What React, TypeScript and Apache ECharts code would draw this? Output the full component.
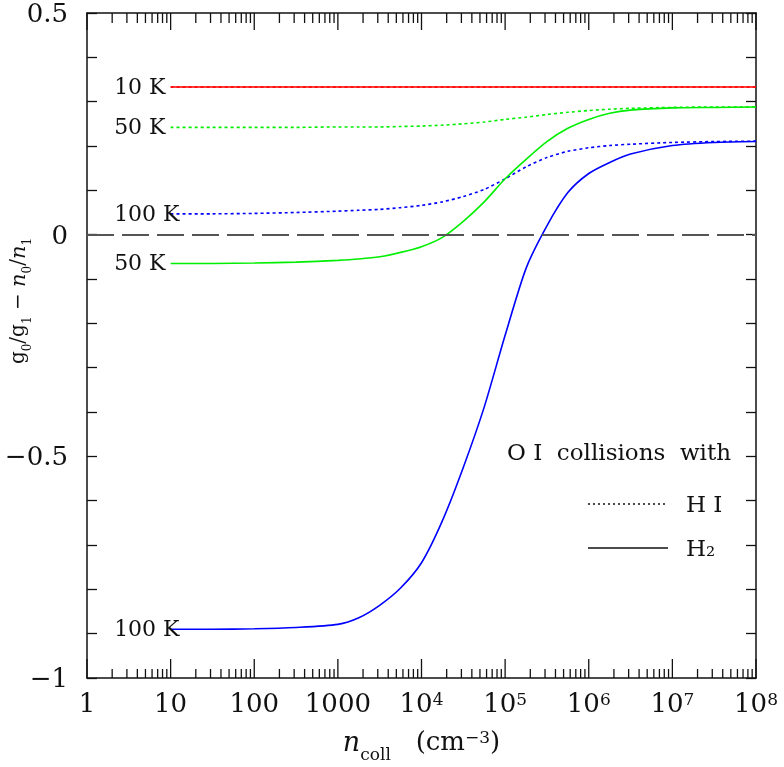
import React, { useEffect, useRef } from 'react';
import * as echarts from 'echarts';

// Collider density grid (cm^-3) shared by the curves
const nColl = [10, 31.6, 100, 316, 1000, 1780, 3160, 5620, 1e4, 1.78e4, 3.16e4, 5.62e4, 1e5, 1.78e5, 3.16e5, 5.62e5, 1e6, 1.78e6, 3.16e6, 1e7, 3.16e7, 1e8];

// O I collisions with H2
const h2_50K = [-0.065, -0.065, -0.064, -0.062, -0.058, -0.055, -0.050, -0.040, -0.027, -0.006, 0.030, 0.074, 0.126, 0.170, 0.210, 0.240, 0.260, 0.274, 0.281, 0.286, 0.287, 0.288];
const h2_100K = [-0.890, -0.890, -0.889, -0.886, -0.879, -0.864, -0.836, -0.797, -0.740, -0.645, -0.525, -0.389, -0.227, -0.076, 0.020, 0.095, 0.138, 0.163, 0.182, 0.201, 0.208, 0.210];

// O I collisions with H I
const hi_50K = [0.242, 0.242, 0.242, 0.242, 0.243, 0.243, 0.243, 0.244, 0.245, 0.247, 0.250, 0.254, 0.260, 0.265, 0.271, 0.276, 0.280, 0.283, 0.285, 0.287, 0.288, 0.288];
const hi_100K = [0.047, 0.047, 0.048, 0.050, 0.053, 0.055, 0.057, 0.061, 0.066, 0.074, 0.086, 0.102, 0.126, 0.153, 0.174, 0.188, 0.196, 0.201, 0.204, 0.208, 0.210, 0.211];

// 10 K (both colliders coincide)
const n10K = [10, 100, 1000, 1e4, 1e5, 1e6, 1e7, 1e8];
const hi_10K = [0.333, 0.333, 0.333, 0.333, 0.333, 0.333, 0.333, 0.333];
const h2_10K = [0.333, 0.333, 0.333, 0.333, 0.333, 0.333, 0.333, 0.333];

// curve labels (placed at the first point of each curve)
const curveLabels = ['10 K', '50 K', '100 K', '50 K', '100 K'];

// legend texts
const legendTitle = 'O I  collisions  with';
const legendNames = ['H I', 'H\u2082'];

// axis ticks
const xTickExponents = [0, 1, 2, 3, 4, 5, 6, 7, 8];
const xTickLabels = ['1', '10', '100', '1000', '10{sup|4}', '10{sup|5}', '10{sup|6}', '10{sup|7}', '10{sup|8}'];
const xMinorMultipliers = [2, 3, 4, 5, 6, 7, 8, 9];
const yLabelValues = [0.5, 0, -0.5, -1];
const yLabelTexts = ['0.5', '0', '\u22120.5', '\u22121'];

const FONT = '"DejaVu Serif", serif';
const INK = '#111111';
const RED = '#ff0000';
const GREEN = '#00ee00';
const BLUE = '#0000ff';

export default function App() {
  const ref = useRef<HTMLDivElement>(null);
  useEffect(() => {
    const chart = echarts.init(ref.current!, null, { renderer: 'svg' });
    const toXY = (ns: number[], ys: number[]) => ns.map((n, i) => [Math.log10(n), ys[i]]);
    const curve = (name: string, ns: number[], ys: number[], color: string, dotted: boolean, z: number) => ({
      name,
      type: 'line',
      data: toXY(ns, ys),
      showSymbol: false,
      symbol: 'none',
      smooth: 0.25,
      silent: true,
      z,
      lineStyle: { color, width: 1.6, type: dotted ? [3, 3] : 'solid' },
      itemStyle: { color },
    });

    const minorTicks: number[][] = [];
    for (let k = 0; k < 8; k++) {
      for (const m of xMinorMultipliers) minorTicks.push([k + Math.log10(m), 0]);
    }
    const majorTicks = xTickExponents.map((e) => [e, 0]);

    const labelPoints = [
      [n10K[0], hi_10K[0]],
      [nColl[0], hi_50K[0]],
      [nColl[0], hi_100K[0]],
      [nColl[0], h2_50K[0]],
      [nColl[0], h2_100K[0]],
    ];

    const axisLineStyle = { color: INK, width: 1.5 };
    const tickSeries = (name: string, data: number[][], lenB: number, lenT: number) => ({
      name,
      type: 'custom',
      silent: true,
      clip: false,
      data,
      z: 5,
      renderItem: (_p: any, api: any) => {
        const x = api.value(0);
        const b = api.coord([x, -1]);
        const t = api.coord([x, 0.5]);
        return {
          type: 'group',
          children: [
            { type: 'line', shape: { x1: b[0], y1: b[1], x2: b[0], y2: b[1] - lenB }, style: { stroke: INK, lineWidth: 1.3 } },
            { type: 'line', shape: { x1: t[0], y1: t[1], x2: t[0], y2: t[1] + lenT }, style: { stroke: INK, lineWidth: 1.3 } },
          ],
        };
      },
    });

    chart.setOption({
      animation: false,
      grid: { left: 87, right: 28, top: 13, bottom: 80, containLabel: false },
      xAxis: [
        {
          type: 'value',
          min: 0,
          max: 8,
          interval: 1,
          position: 'bottom',
          axisLine: { show: true, onZero: false, lineStyle: axisLineStyle },
          axisTick: { show: false },
          splitLine: { show: false },
          axisLabel: {
            margin: 12,
            color: INK,
            fontFamily: FONT,
            fontSize: 26,
            showMinLabel: true,
            showMaxLabel: true,
            formatter: (v: number) => {
              const i = xTickExponents.indexOf(Math.round(v));
              return i >= 0 ? xTickLabels[i] : '';
            },
            rich: {
              sup: { fontFamily: FONT, fontSize: 17, color: INK, verticalAlign: 'top', lineHeight: 18 },
            },
          },
          name: '{i|n}{s|coll}{r|   (cm}{sup|\u22123}{r|)}',
          nameLocation: 'middle',
          nameGap: 50,
          nameTextStyle: {
            color: INK,
            fontFamily: FONT,
            fontSize: 26,
            rich: {
              i: { fontFamily: FONT, fontStyle: 'italic', fontSize: 27, color: INK, lineHeight: 34, verticalAlign: 'top' },
              s: { fontFamily: FONT, fontSize: 17, color: INK, lineHeight: 20, verticalAlign: 'bottom' },
              r: { fontFamily: FONT, fontSize: 26, color: INK, lineHeight: 34, verticalAlign: 'top' },
              sup: { fontFamily: FONT, fontSize: 17, color: INK, lineHeight: 18, verticalAlign: 'top' },
            },
          },
        },
        {
          type: 'value',
          min: 0,
          max: 8,
          interval: 1,
          position: 'top',
          axisLine: { show: true, onZero: false, lineStyle: axisLineStyle },
          axisTick: { show: false },
          axisLabel: { show: false },
          splitLine: { show: false },
        },
      ],
      yAxis: [
        {
          type: 'value',
          min: -1,
          max: 0.5,
          interval: 0.1,
          position: 'left',
          axisLine: { show: true, onZero: false, lineStyle: axisLineStyle },
          axisTick: { show: true, inside: true, length: 10, lineStyle: { color: INK, width: 1.3 } },
          splitLine: { show: false },
          axisLabel: {
            margin: 19,
            color: INK,
            fontFamily: FONT,
            fontSize: 26,
            lineHeight: 20,
            showMinLabel: true,
            showMaxLabel: true,
            formatter: (v: number) => {
              const i = yLabelValues.findIndex((t) => Math.abs(t - v) < 1e-6);
              return i >= 0 ? yLabelTexts[i] : '';
            },
          },
        },
        {
          type: 'value',
          min: -1,
          max: 0.5,
          interval: 0.1,
          position: 'right',
          axisLine: { show: true, onZero: false, lineStyle: axisLineStyle },
          axisTick: { show: true, inside: true, length: 10, lineStyle: { color: INK, width: 1.3 } },
          axisLabel: { show: false },
          splitLine: { show: false },
        },
      ],
      graphic: [
        {
          type: 'text',
          right: 53,
          top: 440,
          style: { text: legendTitle, fontFamily: FONT, fontSize: 23, fill: INK },
        },
        {
          type: 'line',
          shape: { x1: 588, y1: 504, x2: 668, y2: 504 },
          style: { stroke: INK, lineWidth: 1.4, lineDash: [2, 3] },
        },
        {
          type: 'text',
          x: 686,
          y: 504,
          style: { text: legendNames[0], fontFamily: FONT, fontSize: 23, fill: INK, verticalAlign: 'middle' },
        },
        {
          type: 'line',
          shape: { x1: 588, y1: 548, x2: 668, y2: 548 },
          style: { stroke: INK, lineWidth: 1.4 },
        },
        {
          type: 'text',
          x: 686,
          y: 548,
          style: { text: legendNames[1], fontFamily: FONT, fontSize: 23, fill: INK, verticalAlign: 'middle' },
        },
        {
          type: 'text',
          x: 20,
          y: 301,
          rotation: Math.PI / 2,
          style: {
            text: '{g|g}{s|0}{r|/}{g|g}{s|1}{r| \u2212 }{i|n}{s|0}{r|/}{i|n}{s|1}',
            align: 'center',
            verticalAlign: 'middle',
            rich: {
              g: { fontFamily: FONT, fontSize: 20, fill: INK, lineHeight: 26, verticalAlign: 'top' },
              i: { fontFamily: FONT, fontStyle: 'italic', fontSize: 21, fill: INK, lineHeight: 26, verticalAlign: 'top' },
              r: { fontFamily: FONT, fontSize: 20, fill: INK, lineHeight: 26, verticalAlign: 'top' },
              s: { fontFamily: FONT, fontSize: 12, fill: INK, lineHeight: 16, verticalAlign: 'bottom' },
            },
          },
        },
      ],
      series: [
        tickSeries('minorTicks', minorTicks, 9, 10),
        tickSeries('majorTicks', majorTicks, 19, 17),
        {
          name: 'zero',
          type: 'line',
          data: [],
          silent: true,
          markLine: {
            silent: true,
            symbol: 'none',
            label: { show: false },
            lineStyle: { color: '#555', width: 2, type: [27, 8] },
            data: [{ yAxis: 0 }],
          },
        },
        curve('HI 10 K', n10K, hi_10K, RED, true, 3),
        curve('H2 10 K', n10K, h2_10K, RED, false, 4),
        curve('HI 50 K', nColl, hi_50K, GREEN, true, 3),
        curve('H2 50 K', nColl, h2_50K, GREEN, false, 4),
        curve('HI 100 K', nColl, hi_100K, BLUE, true, 3),
        curve('H2 100 K', nColl, h2_100K, BLUE, false, 4),
        {
          name: 'curveLabels',
          type: 'scatter',
          silent: true,
          z: 6,
          symbolSize: 1,
          itemStyle: { color: 'rgba(255,255,255,0)' },
          data: labelPoints.map((p, i) => ({
            value: [Math.log10(p[0]), p[1]],
            label: { formatter: curveLabels[i] },
          })),
          label: {
            show: true,
            position: [-56, 0],
            align: 'left',
            verticalAlign: 'middle',
            fontFamily: FONT,
            fontSize: 22,
            color: INK,
            opacity: 1,
          },
        },
      ],
    });
    return () => chart.dispose();
  }, []);
  return <div ref={ref} style={{ position: 'fixed', left: 0, top: 0, width: 784, height: 767 }} />;
}
